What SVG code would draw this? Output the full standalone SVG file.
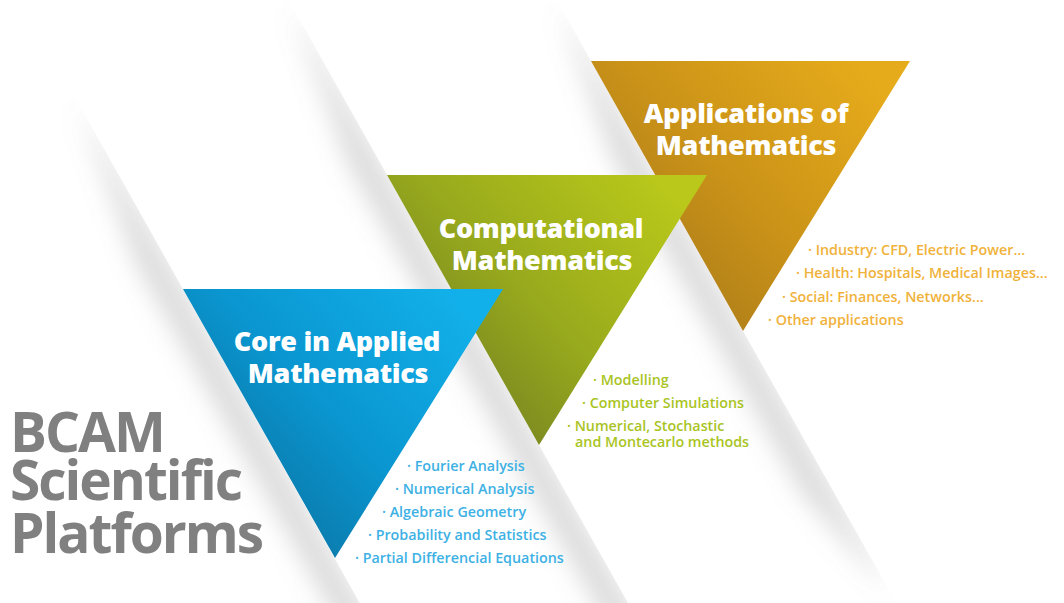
<svg xmlns="http://www.w3.org/2000/svg" width="1064" height="603" viewBox="0 0 1064 603">
  <defs>
    <style>
      .ttl { font-family: "Open Sans", "Liberation Sans", sans-serif; font-weight: 800; font-size: 27px; fill: #ffffff; text-anchor: middle; letter-spacing: -0.3px; }
      .lst { font-family: "Open Sans", "Liberation Sans", sans-serif; font-weight: 600; font-size: 14.3px; }
      .blue { fill: #3db1e4; }
      .green { fill: #a9c41f; }
      .orange { fill: #f0b23a; }
      .main { font-family: "Open Sans", "Liberation Sans", sans-serif; font-weight: 700; font-size: 55px; fill: #808080; letter-spacing: -2px; }
      .shd { fill: #8c8c8c; fill-opacity: 0.32; filter: url(#blur); }
    </style>
    <filter id="blur" filterUnits="userSpaceOnUse" x="-200" y="-200" width="1500" height="1000">
      <feGaussianBlur stdDeviation="12"/>
    </filter>
    <clipPath id="cBlue"><polygon points="-7.9,-50 414.4,700 -500,700 -500,-50"/></clipPath>
    <clipPath id="cGreen"><polygon points="260.4,-50 682.6,700 -500,700 -500,-50"/></clipPath>
    <clipPath id="cOrange"><polygon points="528.6,-50 950.8,700 -500,700 -500,-50"/></clipPath>
    <linearGradient id="gBlue" x1="0.05" y1="0.85" x2="0.95" y2="0.15">
      <stop offset="0" stop-color="#0b6c99"/>
      <stop offset="0.5" stop-color="#0a96d0"/>
      <stop offset="1" stop-color="#12b0ea"/>
    </linearGradient>
    <linearGradient id="gGreen" x1="0.05" y1="0.85" x2="0.95" y2="0.15">
      <stop offset="0" stop-color="#6c7822"/>
      <stop offset="0.5" stop-color="#98aa1d"/>
      <stop offset="1" stop-color="#b9c81a"/>
    </linearGradient>
    <linearGradient id="gOrange" x1="0.05" y1="0.85" x2="0.95" y2="0.15">
      <stop offset="0" stop-color="#a37619"/>
      <stop offset="0.5" stop-color="#cb9318"/>
      <stop offset="1" stop-color="#e6ab1b"/>
    </linearGradient>
  </defs>

  <rect x="0" y="0" width="1064" height="603" fill="#ffffff"/>

  <g id="shadows">
    <g clip-path="url(#cBlue)">
      <polygon class="shd" points="83.4,112 380.6,640 356.2,653.7 136.7,263.7 81.7,113"/>
    </g>
    <g clip-path="url(#cGreen)">
      <polygon class="shd" points="296.4,14 648.8,640 624.4,653.7 348.6,163.7 294.7,15"/>
    </g>
    <g clip-path="url(#cOrange)">
      <polygon class="shd" points="564.6,14 826.9,480 886.1,585 884.4,586 802.5,493.7 611.1,153.7 562.9,15"/>
    </g>
  </g>

  <g id="node-applications">
    <polygon points="591,61 910,61 743,331" fill="url(#gOrange)"/>
    <text class="ttl"><tspan x="746" y="123">Applications of</tspan><tspan x="746" y="155">Mathematics</tspan></text>
    <text class="lst orange" x="808" y="255">· Industry: CFD, Electric Power...</text>
    <text class="lst orange" x="796" y="278">· Health: Hospitals, Medical Images...</text>
    <text class="lst orange" x="782" y="302">· Social: Finances, Networks...</text>
    <text class="lst orange" x="768" y="325">· Other applications</text>
  </g>

  <g id="node-computational">
    <polygon points="387,175 707,175 539,445" fill="url(#gGreen)"/>
    <text class="ttl"><tspan x="541" y="238">Computational</tspan><tspan x="542" y="270">Mathematics</tspan></text>
    <text class="lst green" x="593" y="385">· Modelling</text>
    <text class="lst green" x="582" y="408">· Computer Simulations</text>
    <text class="lst green"><tspan x="567" y="431">· Numerical, Stochastic</tspan><tspan x="575" y="447">and Montecarlo methods</tspan></text>
  </g>

  <g id="node-core">
    <polygon points="183,289 503,289 335,558" fill="url(#gBlue)"/>
    <text class="ttl"><tspan x="337" y="351">Core in Applied</tspan><tspan x="338" y="383">Mathematics</tspan></text>
    <text class="lst blue" x="407" y="471">· Fourier Analysis</text>
    <text class="lst blue" x="395" y="494">· Numerical Analysis</text>
    <text class="lst blue" x="382" y="517">· Algebraic Geometry</text>
    <text class="lst blue" x="368" y="540">· Probability and Statistics</text>
    <text class="lst blue" x="355" y="563">· Partial Differencial Equations</text>
  </g>

  <g id="title">
    <text class="main"><tspan x="10" y="452">BCAM</tspan><tspan x="10" y="500">Scientific</tspan><tspan x="10" y="553">Platforms</tspan></text>
  </g>
</svg>
